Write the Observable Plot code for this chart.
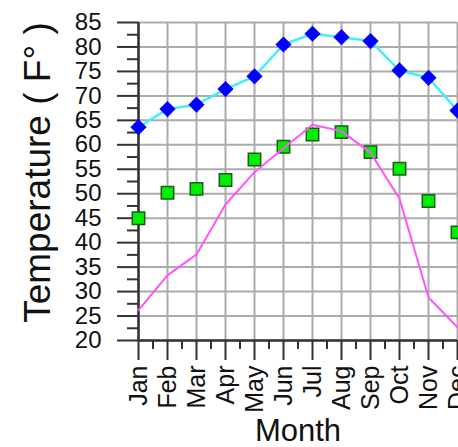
<!DOCTYPE html>
<html>
<head>
<meta charset="utf-8">
<script src="https://cdn.jsdelivr.net/npm/d3@7"></script>
<script src="https://cdn.jsdelivr.net/npm/@observablehq/plot@0.6"></script>
<style>
  html, body { margin: 0; padding: 0; background: #fff; overflow: hidden; }
  svg { display: block; }
</style>
</head>
<body>
<div id="chart"></div>
<script>
const months = ["Jan","Feb","Mar","Apr","May","Jun","Jul","Aug","Sep","Oct","Nov","Dec"];
const highTemps = [63.6, 67.3, 68.2, 71.4, 74.0, 80.5, 82.7, 82.0, 81.2, 75.2, 73.7, 67.0];
const meanTemps = [45.0, 50.2, 51.0, 52.8, 57.0, 59.6, 62.1, 62.6, 58.5, 55.1, 48.5, 42.1];
const lowTemps  = [26.2, 33.3, 37.6, 47.8, 54.4, 59.3, 64.1, 62.8, 58.4, 49.0, 28.8, 22.7];
const yTicks = [20, 25, 30, 35, 40, 45, 50, 55, 60, 65, 70, 75, 80, 85];
const yMinorTicks = [22.5, 27.5, 32.5, 37.5, 42.5, 47.5, 52.5, 57.5, 62.5, 67.5, 72.5, 77.5, 82.5];

const idx = months.map((_, i) => i);
const xMinor = idx.slice(0, -1).map(i => i + 0.5);
const high = months.map((m, i) => ({i, v: highTemps[i]}));
const mean = months.map((m, i) => ({i, v: meanTemps[i]}));
const low = months.map((m, i) => ({i, v: lowTemps[i]}));

const font = "Liberation Sans, Arial, sans-serif";

const plot = Plot.plot({
  width: 458,
  height: 447,
  marginLeft: 138,
  marginRight: 1,
  marginTop: 22,
  marginBottom: 107,
  style: {fontFamily: font, background: "#fff", overflow: "visible"},
  x: {type: "linear", domain: [0, 11], axis: null},
  y: {type: "linear", domain: [20, 85], axis: null},
  marks: [
    // grid
    Plot.ruleX(idx, {stroke: "#ababab", strokeWidth: 2}),
    Plot.ruleY(yTicks, {stroke: "#ababab", strokeWidth: 2}),
    // axes lines
    Plot.ruleX([0], {stroke: "#333", strokeWidth: 2.5}),
    Plot.ruleY([20], {stroke: "#333", strokeWidth: 2.5}),
    // y ticks
    Plot.axisY({ticks: yTicks, tickSize: 21, tickPadding: 16, fontSize: 24, label: null, stroke: "#333", strokeWidth: 2, fill: "#111"}),
    Plot.axisY({ticks: yMinorTicks, tickSize: 11, tickFormat: () => "", label: null, stroke: "#333", strokeWidth: 2}),
    // x ticks
    Plot.axisX({ticks: idx, tickSize: 20, tickPadding: 5, tickRotate: -90, tickFormat: i => months[i], fontSize: 25, label: null, stroke: "#333", strokeWidth: 2, fill: "#111"}),
    Plot.axisX({ticks: xMinor, tickSize: 9, tickFormat: () => "", label: null, stroke: "#333", strokeWidth: 2}),
    // series
    Plot.line(high, {x: "i", y: "v", stroke: "#3ff0f8", strokeWidth: 2.5}),
    Plot.dot(high, {x: "i", y: "v", symbol: "diamond2", r: 7.3, fill: "#0000ff", stroke: "none"}),
    Plot.dot(mean, {x: "i", y: "v", symbol: "square", r: 7, fill: "#00ee00", stroke: "#1a5c1a", strokeWidth: 1.5}),
    Plot.line(low, {x: "i", y: "v", stroke: "#ff55ff", strokeWidth: 2}),
    // titles
    Plot.text(["Month"], {frameAnchor: "bottom", dy: 100, fontSize: 31, fill: "#111", lineAnchor: "bottom"}),
    Plot.text(["Temperature ( F° )"], {frameAnchor: "left", textAnchor: "middle", dx: -100, dy: -9, rotate: -90, fontSize: 37, fill: "#111"})
  ]
});
document.getElementById("chart").appendChild(plot);
</script>
</body>
</html>
